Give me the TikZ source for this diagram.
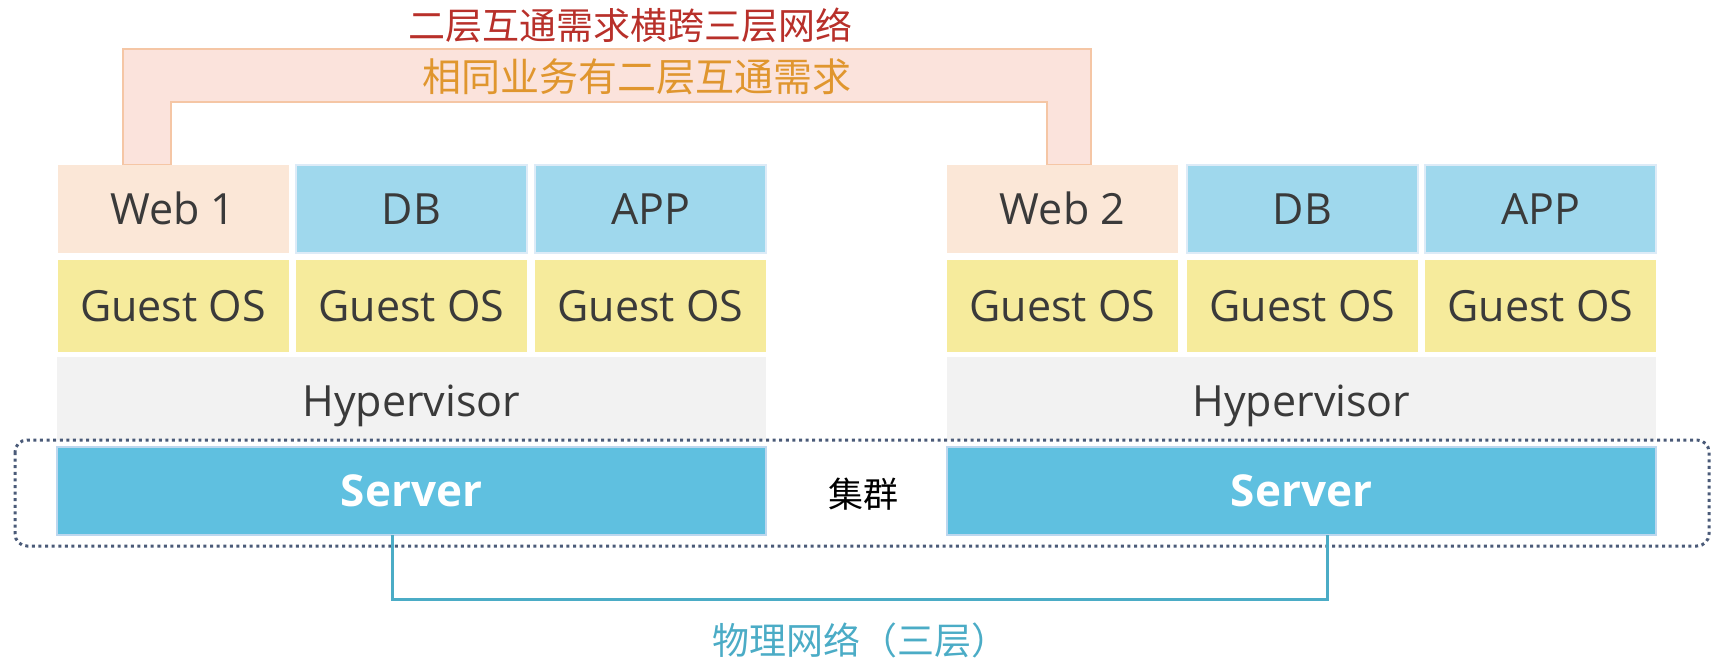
\documentclass[tikz,border=0pt]{standalone}
\usepackage{fontspec}
\setmainfont{Open Sans}
\newfontfamily\cjk{Noto Sans CJK SC}
\definecolor{webc}{HTML}{FBE7D7}
\definecolor{dbc}{HTML}{9FD8ED}
\definecolor{osc}{HTML}{F6EB9C}
\definecolor{hypc}{HTML}{F2F2F2}
\definecolor{srvc}{HTML}{5FC0E0}
\definecolor{srvb}{HTML}{BDD7EE}
\definecolor{dbb}{HTML}{DDEBF7}
\definecolor{txtc}{HTML}{3A3A3A}
\definecolor{archf}{HTML}{FBE3DC}
\definecolor{archb}{HTML}{F5C6A5}
\definecolor{redc}{HTML}{B8302A}
\definecolor{orgc}{HTML}{E0962E}
\definecolor{netc}{HTML}{4BACC6}
\definecolor{dotc}{HTML}{4A5A78}
\begin{document}
\begin{tikzpicture}[x=1pt,y=-1pt,
  box/.style={inner sep=0pt, outer sep=0pt, text=txtc,
    font=\fontsize{43}{43}\selectfont, text height=31pt, text depth=0pt},
  web/.style={box, fill=webc, minimum width=231pt, minimum height=88pt},
  app/.style={box, fill=dbc, draw=dbb, line width=1.5pt, minimum width=231pt, minimum height=88pt},
  os/.style={box, fill=osc, minimum width=231pt, minimum height=92pt},
  hyp/.style={box, fill=hypc, minimum width=709pt, minimum height=83pt, text height=36pt},
  srv/.style={box, fill=srvc, draw=srvb, line width=1.5pt, minimum width=709pt, minimum height=88pt,
    text=white, font=\bfseries\fontsize{44}{44}\selectfont},
  lbl/.style={inner sep=0pt, font=\cjk\fontsize{37}{37}\selectfont},
  net/.style={draw=netc, line width=3pt},
  cluster/.style={draw=dotc, line width=3pt, dash pattern=on 3pt off 3.6pt, rounded corners=12pt}
]
\useasboundingbox (0,0) rectangle (1723,671);

% arch band
\filldraw[fill=archf, draw=archb, line width=1.5pt]
  (123,165) -- (123,49) -- (1091,49) -- (1091,165) -- (1047,165)
  -- (1047,102) -- (171,102) -- (171,165) -- cycle;

% left stack
\node[web] (w1)  at (173,209)   {Web 1};
\node[app] (db1) at (411.5,209) {DB};
\node[app] (ap1) at (650.5,209) {APP};
\node[os]  (g1a) at (173,306)   {Guest OS};
\node[os]  (g1b) at (411.5,306) {Guest OS};
\node[os]  (g1c) at (650.5,306) {Guest OS};
\node[hyp] (h1)  at (411.5,398.5) {Hypervisor};
\node[srv] (s1)  at (411.5,491) {Server};

% right stack
\node[web] (w2)  at (1062.5,209) {Web 2};
\node[app] (db2) at (1302.5,209) {DB};
\node[app] (ap2) at (1540.5,209) {APP};
\node[os]  (g2a) at (1062.5,306) {Guest OS};
\node[os]  (g2b) at (1302.5,306) {Guest OS};
\node[os]  (g2c) at (1540.5,306) {Guest OS};
\node[hyp] (h2)  at (1301.5,398.5) {Hypervisor};
\node[srv] (s2)  at (1301.5,491) {Server};

% cluster
\draw[cluster] (15,440) rectangle (1709,546);
\node[lbl, text=black, font=\cjk\fontsize{35}{35}\selectfont] (cl) at (863,494) {集群};

% physical network
\draw[net] ([xshift=-19.5pt]s1.south) -- ++(0,64) -| ([xshift=25.5pt]s2.south);

% labels
\node[lbl, text=redc] (t1) at (630,25) {二层互通需求横跨三层网络};
\node[lbl, text=orgc, font=\cjk\fontsize{39}{39}\selectfont] (t2) at (637,77) {相同业务有二层互通需求};
\node[lbl, text=netc] (t3) at (860,640) {物理网络（三层）};
\end{tikzpicture}
\end{document}
